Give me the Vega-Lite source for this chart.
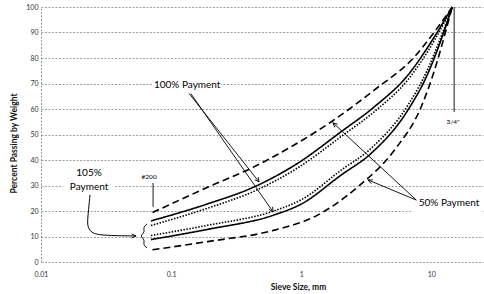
{
  "$schema": "https://vega.github.io/schema/vega-lite/v6.json",
  "width": 442,
  "height": 255,
  "autosize": {"type": "none"},
  "padding": {"left": 41, "top": 7, "right": 1, "bottom": 32},
  "background": "white",
  "config": {"view": {"stroke": null}, "font": "Lato"},
  "datasets": {
    "masks": [
      {"x": 0.0727, "x2": 0.243, "y": 67.5, "y2": 71.4},
      {"x": 0.0148, "x2": 0.0365, "y": 28, "y2": 32},
      {"x": 7.0, "x2": 25, "y": 18.4, "y2": 27}
    ],
    "curves": [
      {"s": "UD", "style": "dashed", "x": 0.072, "y": 19.4},
      {"s": "UD", "style": "dashed", "x": 0.191, "y": 29.3},
      {"s": "UD", "style": "dashed", "x": 0.437, "y": 37.4},
      {"s": "UD", "style": "dashed", "x": 0.838, "y": 45.2},
      {"s": "UD", "style": "dashed", "x": 1.75, "y": 55.4},
      {"s": "UD", "style": "dashed", "x": 3.66, "y": 67.5},
      {"s": "UD", "style": "dashed", "x": 7.45, "y": 80.5},
      {"s": "UD", "style": "dashed", "x": 10.6, "y": 90.3},
      {"s": "UD", "style": "dashed", "x": 14.5, "y": 100},
      {"s": "US", "style": "solid", "x": 0.070, "y": 16.1},
      {"s": "US", "style": "solid", "x": 0.191, "y": 22.8},
      {"s": "US", "style": "solid", "x": 0.437, "y": 29.5},
      {"s": "US", "style": "solid", "x": 0.94, "y": 38.7},
      {"s": "US", "style": "solid", "x": 2.03, "y": 51.1},
      {"s": "US", "style": "solid", "x": 3.66, "y": 60.9},
      {"s": "US", "style": "solid", "x": 6.62, "y": 73.3},
      {"s": "US", "style": "solid", "x": 10.6, "y": 88.4},
      {"s": "US", "style": "solid", "x": 14.5, "y": 100},
      {"s": "UT", "style": "dotted", "x": 0.070, "y": 14.3},
      {"s": "UT", "style": "dotted", "x": 0.191, "y": 21.1},
      {"s": "UT", "style": "dotted", "x": 0.437, "y": 27.8},
      {"s": "UT", "style": "dotted", "x": 0.94, "y": 36.9},
      {"s": "UT", "style": "dotted", "x": 2.03, "y": 49.2},
      {"s": "UT", "style": "dotted", "x": 3.66, "y": 59.0},
      {"s": "UT", "style": "dotted", "x": 6.62, "y": 71.5},
      {"s": "UT", "style": "dotted", "x": 10.6, "y": 87.0},
      {"s": "UT", "style": "dotted", "x": 14.5, "y": 100},
      {"s": "LT", "style": "dotted", "x": 0.070, "y": 10.4},
      {"s": "LT", "style": "dotted", "x": 0.191, "y": 14.4},
      {"s": "LT", "style": "dotted", "x": 0.624, "y": 20.1},
      {"s": "LT", "style": "dotted", "x": 1.0, "y": 24.4},
      {"s": "LT", "style": "dotted", "x": 2.03, "y": 36.0},
      {"s": "LT", "style": "dotted", "x": 3.45, "y": 44.6},
      {"s": "LT", "style": "dotted", "x": 6.62, "y": 61.5},
      {"s": "LT", "style": "dotted", "x": 9.44, "y": 75.8},
      {"s": "LT", "style": "dotted", "x": 11.9, "y": 88.4},
      {"s": "LT", "style": "dotted", "x": 14.5, "y": 100},
      {"s": "LS", "style": "solid", "x": 0.070, "y": 8.8},
      {"s": "LS", "style": "solid", "x": 0.191, "y": 12.8},
      {"s": "LS", "style": "solid", "x": 0.624, "y": 18.5},
      {"s": "LS", "style": "solid", "x": 1.0, "y": 22.7},
      {"s": "LS", "style": "solid", "x": 2.03, "y": 34.1},
      {"s": "LS", "style": "solid", "x": 3.45, "y": 42.6},
      {"s": "LS", "style": "solid", "x": 6.62, "y": 59.6},
      {"s": "LS", "style": "solid", "x": 9.44, "y": 74.0},
      {"s": "LS", "style": "solid", "x": 11.9, "y": 87.1},
      {"s": "LS", "style": "solid", "x": 14.5, "y": 100},
      {"s": "LD", "style": "dashed", "x": 0.072, "y": 4.8},
      {"s": "LD", "style": "dashed", "x": 0.191, "y": 8.0},
      {"s": "LD", "style": "dashed", "x": 0.624, "y": 12.5},
      {"s": "LD", "style": "dashed", "x": 1.27, "y": 17.8},
      {"s": "LD", "style": "dashed", "x": 2.73, "y": 29.5},
      {"s": "LD", "style": "dashed", "x": 5.22, "y": 43.9},
      {"s": "LD", "style": "dashed", "x": 8.38, "y": 60.9},
      {"s": "LD", "style": "dashed", "x": 11.2, "y": 79.2},
      {"s": "LD", "style": "dashed", "x": 13.0, "y": 91.0},
      {"s": "LD", "style": "dashed", "x": 14.5, "y": 100}
    ],
    "arrows": [
      {"id": "p100a", "o": 1, "x": 0.1375, "y": 66.1},
      {"id": "p100a", "o": 2, "x": 0.475, "y": 31.4},
      {"id": "p100b", "o": 1, "x": 0.142, "y": 66.0},
      {"id": "p100b", "o": 2, "x": 0.609, "y": 19.6},
      {"id": "p50a", "o": 1, "x": 7.67, "y": 24.3},
      {"id": "p50a", "o": 2, "x": 1.754, "y": 54.6},
      {"id": "p50b", "o": 1, "x": 7.67, "y": 24.3},
      {"id": "p50b", "o": 2, "x": 3.26, "y": 32.2},
      {"id": "h100a", "o": 1, "x": 0.467, "y": 33.3},
      {"id": "h100a", "o": 2, "x": 0.475, "y": 31.4},
      {"id": "h100a", "o": 3, "x": 0.440, "y": 32.3},
      {"id": "h100b", "o": 1, "x": 0.602, "y": 21.6},
      {"id": "h100b", "o": 2, "x": 0.609, "y": 19.6},
      {"id": "h100b", "o": 3, "x": 0.565, "y": 20.7},
      {"id": "h50a", "o": 1, "x": 1.81, "y": 52.8},
      {"id": "h50a", "o": 2, "x": 1.754, "y": 54.6},
      {"id": "h50a", "o": 3, "x": 1.91, "y": 54.0},
      {"id": "h50b", "o": 1, "x": 3.46, "y": 30.7},
      {"id": "h50b", "o": 2, "x": 3.26, "y": 32.2},
      {"id": "h50b", "o": 3, "x": 3.56, "y": 32.2},
      {"id": "h105", "o": 1, "x": 0.0497, "y": 11.0},
      {"id": "h105", "o": 2, "x": 0.0538, "y": 10.2},
      {"id": "h105", "o": 3, "x": 0.0497, "y": 9.4},
      {"id": "n200", "o": 1, "x": 0.0727, "y": 31.0},
      {"id": "n200", "o": 2, "x": 0.0727, "y": 21.6},
      {"id": "n34", "o": 1, "x": 15.0, "y": 100},
      {"id": "n34", "o": 2, "x": 15.0, "y": 58.8},
      {"id": "brace", "o": 1, "x": 0.0654, "y": 14.9},
      {"id": "brace", "o": 2, "x": 0.0619, "y": 13.7},
      {"id": "brace", "o": 3, "x": 0.0619, "y": 11.8},
      {"id": "brace", "o": 4, "x": 0.0588, "y": 10.2},
      {"id": "brace", "o": 5, "x": 0.0619, "y": 8.6},
      {"id": "brace", "o": 6, "x": 0.0619, "y": 6.7},
      {"id": "brace", "o": 7, "x": 0.0654, "y": 5.5}
    ],
    "curly": [
      {"o": 1, "x": 0.0238, "y": 26.3},
      {"o": 2, "x": 0.0230, "y": 18.4},
      {"o": 3, "x": 0.0226, "y": 14.1},
      {"o": 4, "x": 0.0243, "y": 11.4},
      {"o": 5, "x": 0.0290, "y": 10.4},
      {"o": 6, "x": 0.0538, "y": 10.2}
    ],
    "bigText": [
      {"t": "100% Payment", "x": 0.133, "y": 69.4},
      {"t": "50% Payment", "x": 13.7, "y": 23.1},
      {"t": "105%", "x": 0.0234, "y": 34.9},
      {"t": "Payment", "x": 0.0234, "y": 29.4}
    ],
    "smallText": [
      {"t": "#200", "x": 0.0678, "y": 33.3},
      {"t": "3/4\"", "x": 14.7, "y": 54.9}
    ]
  },
  "encoding": {
    "x": {
      "field": "x", "type": "quantitative",
      "scale": {"type": "log", "domain": [0.01, 25], "nice": false},
      "axis": {
        "title": "Sieve Size, mm", "values": [0.01, 0.1, 1, 10], "format": "~g",
        "grid": false, "domain": false, "ticks": false, "labelFlush": false,
        "labelFontSize": 7, "labelColor": "#333", "labelPadding": 8,
        "titleFontSize": 8.5, "titleFontWeight": "bold", "titleColor": "#111",
        "titleX": 257, "titleY": 20, "titleAlign": "center", "titleBaseline": "top"
      }
    },
    "y": {
      "field": "y", "type": "quantitative",
      "scale": {"domain": [0, 100], "nice": false},
      "axis": {
        "title": "Percent Passing by Weight",
        "values": [0, 10, 20, 30, 40, 50, 60, 70, 80, 90, 100],
        "grid": true, "gridDash": [2, 1.5], "gridColor": "#888", "gridWidth": 0.8,
        "domain": true, "domainDash": [2, 1.5], "domainColor": "#777", "domainWidth": 0.8,
        "ticks": false, "labelFontSize": 7, "labelColor": "#333", "labelPadding": 3,
        "titleFontSize": 8.5, "titleFontWeight": "bold", "titleColor": "#111",
        "titleX": -28, "titleY": 136, "titleAngle": -90, "titleAlign": "center", "titleBaseline": "middle"
      }
    }
  },
  "layer": [
    {
      "data": {"name": "masks"},
      "mark": {"type": "rect", "color": "white"},
      "encoding": {"x2": {"field": "x2"}, "y2": {"field": "y2"}}
    },
    {
      "data": {"name": "curves"},
      "mark": {"type": "line", "interpolate": "monotone", "color": "black"},
      "encoding": {
        "detail": {"field": "s", "type": "nominal"},
        "strokeDash": {"field": "style", "type": "nominal", "legend": null,
          "scale": {"domain": ["solid", "dashed", "dotted"], "range": [[1, 0], [7, 4], [1.5, 1.5]]}},
        "strokeWidth": {"field": "style", "type": "nominal", "legend": null,
          "scale": {"domain": ["solid", "dashed", "dotted"], "range": [1.6, 1.6, 0.9]}}
      }
    },
    {
      "data": {"name": "arrows"},
      "mark": {"type": "line", "color": "black", "strokeWidth": 0.9},
      "encoding": {
        "detail": {"field": "id", "type": "nominal"},
        "order": {"field": "o", "type": "quantitative"}
      }
    },
    {
      "data": {"name": "curly"},
      "mark": {"type": "line", "color": "black", "strokeWidth": 1, "interpolate": "basis"},
      "encoding": {"order": {"field": "o", "type": "quantitative"}}
    },
    {
      "data": {"name": "bigText"},
      "mark": {"type": "text", "fontSize": 10, "color": "black", "align": "center", "baseline": "middle"},
      "encoding": {"text": {"field": "t", "type": "nominal"}}
    },
    {
      "data": {"name": "smallText"},
      "mark": {"type": "text", "fontSize": 6.5, "color": "black", "align": "center", "baseline": "middle"},
      "encoding": {"text": {"field": "t", "type": "nominal"}}
    }
  ]
}
